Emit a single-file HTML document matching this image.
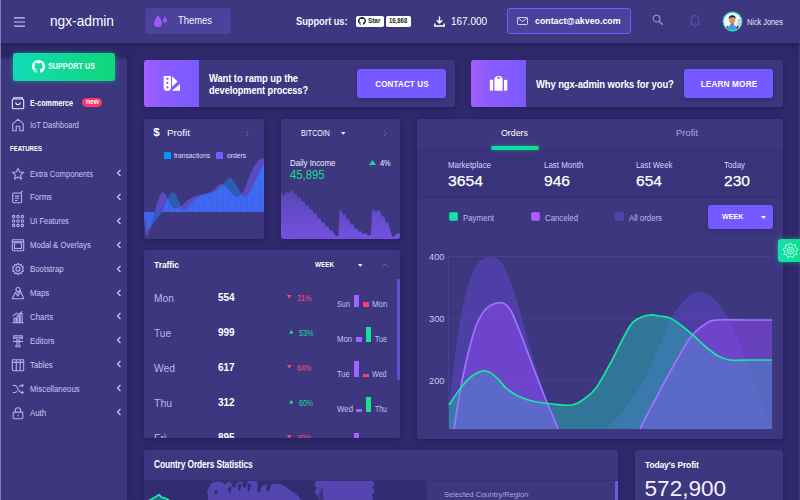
<!DOCTYPE html>
<html lang="en">
<head>
<meta charset="utf-8">
<title>ngx-admin</title>
<style>
*{box-sizing:border-box;margin:0;padding:0}
html,body{width:800px;height:500px;overflow:hidden;background:#2f296b;font-family:"Liberation Sans",sans-serif;color:#fff}
.abs{position:absolute}
.t{position:absolute;white-space:nowrap;line-height:1;transform:translateY(-50%) scaleX(var(--sx,1));transform-origin:0 50%}
.card{position:absolute;background:#3d3780;border-radius:3px;box-shadow:0 2px 5px rgba(28,23,73,.42);overflow:hidden}
#header{position:absolute;left:0;top:0;width:800px;height:43px;background:#3d3780;box-shadow:0 2px 7px rgba(25,20,70,.6);z-index:5}
#sidebar{position:absolute;left:0;top:43px;width:127px;height:457px;z-index:4}
#sbbg{position:absolute;left:0;top:14px;width:126.500px;height:443px;border-radius:0 4px 0 0;background:linear-gradient(#322c6f 0,#3d3780 5px);box-shadow:2px 0 6px rgba(25,20,70,.3)}
.mi{position:absolute;left:0;width:127px;height:24px}
.mi .t{left:30px;top:12.600px;font-size:8.900px;color:#c9c6f3}
.mi svg.ic{position:absolute;left:11px;top:5.500px;width:14px;height:14px;stroke:#b3afee;fill:none;stroke-width:1.250}
.mi .ch{position:absolute;left:116px;top:8px;width:6px;height:8px;stroke:#c9c6f3;fill:none;stroke-width:1.2}
.btn{position:absolute;background:#7659ff;border-radius:3px;box-shadow:0 2px 6px rgba(30,20,90,.35)}
.btn .t{font-weight:bold;font-size:9.8px;letter-spacing:.2px;left:50%;top:50%;transform:translate(-50%,-50%) scaleX(var(--sx,1));transform-origin:50% 50%}
.row{position:absolute;left:0;width:256px;height:35px;border-top:1px solid #39337b}
.row .d{left:10px;top:18.5px;font-size:10.5px;color:#b9b5ee}
.row .n{left:74px;top:18.6px;font-size:10px;font-weight:bold;color:#fff}
.row .p{top:18.5px;font-size:8.9px}
.row .l{font-size:8.4px;color:#c3c0ee}
.red{color:#ff4673}.grn{color:#1fdc8c}
.bar{position:absolute}
.lab{font-size:9.2px;color:#d6d3fa}
.val{font-size:15.3px;color:#fff;-webkit-text-stroke:.25px #fff}
.lg{font-size:8.4px;color:#bdb9ec}
</style>
</head>
<body>

<!-- HEADER -->
<div id="header">
  <svg class="abs" style="left:14.200px;top:17px" width="12" height="11" viewBox="0 0 12 11"><path d="M0 .8h11M0 5h11M0 9.200h11" stroke="#c9c6f3" stroke-width="1.200" fill="none"/></svg>
  <div class="t" style="--sx:0.926;left:50px;top:20.5px;font-size:14.8px;color:#fff">ngx-admin</div>
  <div class="abs" style="left:136px;top:10px;width:1px;height:23px;background:#3a347d"></div>
  <div class="abs" style="left:145px;top:8px;width:86px;height:26px;background:#4b429c;border-radius:3px"></div>
  <svg class="abs" style="left:153px;top:14px" width="16" height="14" viewBox="0 0 16 14"><path d="M5 1 C6.5 4 9 6 9 9 A4 4 0 0 1 1 9 C1 6 3.5 4 5 1Z" fill="#9a5cf5"/><path d="M12 2.2 C12.8 3.8 14.2 5 14.2 6.4 A2.2 2.2 0 0 1 9.8 6.4 C9.8 5 11.2 3.8 12 2.200Z" fill="#9a5cf5"/></svg>
  <div class="t" style="--sx:0.906;left:178px;top:21px;font-size:10.4px;color:#f3f2ff">Themes</div>
  <div class="abs" style="left:284px;top:10px;width:1px;height:23px;background:#3a347d"></div>
  <div class="t" style="--sx:0.866;left:296px;top:21px;font-size:10.800px;font-weight:bold;color:#f2f1ff;letter-spacing:-.1px">Support us:</div>
  <!-- github star -->
  <div class="abs" style="left:356px;top:15.500px;width:28px;height:11px;background:#fff;border-radius:1.800px"></div>
  <svg class="abs" style="left:358px;top:17px" width="8" height="8" viewBox="0 0 16 16"><path fill="#1b1f23" d="M8 0C3.58 0 0 3.58 0 8c0 3.540 2.290 6.530 5.470 7.590.400.070.550-.170.550-.380 0-.190-.010-.820-.010-1.490-2.010.370-2.530-.490-2.690-.940-.090-.230-.480-.940-.820-1.130-.280-.150-.680-.520-.010-.530.630-.010 1.080.580 1.230.820.720 1.210 1.870.870 2.330.660.070-.520.280-.870.510-1.070-1.780-.200-3.640-.890-3.640-3.950 0-.870.310-1.590.820-2.150-.080-.200-.360-1.020.080-2.120 0 0 .670-.210 2.200.820.640-.180 1.320-.270 2-.270.680 0 1.360.090 2 .270 1.530-1.040 2.200-.820 2.200-.820.440 1.100.160 1.920.080 2.120.510.560.820 1.270.820 2.150 0 3.070-1.870 3.750-3.650 3.950.290.250.540.730.540 1.480 0 1.070-.010 1.930-.010 2.200 0 .210.150.460.550.380A8.013 8.013 0 0 0 16 8c0-4.420-3.580-8-8-8z"/></svg>
  <div class="t" style="--sx:0.937;left:367.500px;top:21.200px;font-size:6.800px;font-weight:bold;color:#24292e">Star</div>
  <div class="abs" style="left:386px;top:15.500px;width:24.500px;height:11px;background:#fff;border-radius:1.800px"></div>
  <div class="t" style="--sx:0.875;left:388.500px;top:21.200px;font-size:6.800px;font-weight:bold;color:#24292e">16,868</div>
  <div class="abs" style="left:421px;top:10px;width:1px;height:23px;background:#3a347d"></div>
  <svg class="abs" style="left:434px;top:16px" width="11" height="11" viewBox="0 0 11 11"><path d="M5.5 0.500v6M2.800 4.200l2.700 2.700 2.700-2.700M0.800 7.500v2.500h9.400v-2.500" stroke="#fff" stroke-width="1.400" fill="none"/></svg>
  <div class="t" style="--sx:0.905;left:451px;top:21px;font-size:11px;color:#fff">167.000</div>
  <div class="abs" style="left:497px;top:10px;width:1px;height:23px;background:#3a347d"></div>
  <div class="abs" style="left:507px;top:8px;width:124px;height:26px;background:#4b429c;border:1px solid #7659ff;border-radius:3px"></div>
  <svg class="abs" style="left:517px;top:17px" width="11" height="8" viewBox="0 0 11 8"><rect x=".5" y=".5" width="10" height="7" rx=".8" stroke="#dedcff" fill="none" stroke-width=".9"/><path d="M.8 1l4.700 3.500L10.200 1" stroke="#dedcff" fill="none" stroke-width=".9"/></svg>
  <div class="t" style="--sx:0.9;left:535px;top:21px;font-size:9.800px;font-weight:bold;color:#fff">contact@akveo.com</div>
  <div class="abs" style="left:641px;top:10px;width:1px;height:23px;background:#3a347d"></div>
  <svg class="abs" style="left:652px;top:14px" width="12" height="12" viewBox="0 0 12 12"><circle cx="4.600" cy="4.600" r="3.400" stroke="#9a96d6" fill="none" stroke-width="1.100"/><path d="M7.200 7.200l3.600 3.600" stroke="#9a96d6" stroke-width="1.300"/></svg>
  <div class="abs" style="left:676px;top:10px;width:1px;height:23px;background:#3a347d"></div>
  <svg class="abs" style="left:689px;top:14px" width="12" height="14" viewBox="0 0 12 14"><path d="M6 1.500a3.600 3.600 0 0 0-3.600 3.600v3L1.200 10.200h9.600L9.600 8.100v-3A3.600 3.600 0 0 0 6 1.500zM4.800 11.500a1.200 1.200 0 0 0 2.400 0" stroke="#5d56a8" fill="none" stroke-width="1"/></svg>
  <div class="abs" style="left:711px;top:10px;width:1px;height:23px;background:#3a347d"></div>
  <!-- avatar -->
  <svg class="abs" style="left:722.200px;top:11.400px" width="21" height="21" viewBox="0 0 21 21">
    <defs><clipPath id="av"><circle cx="10.500" cy="10.500" r="8.800"/></clipPath></defs>
    <circle cx="10.500" cy="10.500" r="10" fill="#1fe3ae"/>
    <g clip-path="url(#av)">
      <rect width="21" height="21" fill="#f4f2fb"/>
      <rect x="15.500" y="8" width="5" height="9" fill="#cfcbe0"/>
      <ellipse cx="10.200" cy="9" rx="3" ry="3.900" fill="#c99572"/>
      <path d="M6.800 8.600c-.7-5.400 7.600-5.800 7-.4-.5-1.500-1.500-2-3.400-2S7.400 7 6.800 8.600z" fill="#23222c"/>
      <path d="M8.800 12.500h2.800l.5 2.200h-3.800z" fill="#c4622c"/>
      <path d="M4.500 21c0-5 2.500-7 5.700-7s5.700 2 5.700 7z" fill="#37a2ea"/>
      <path d="M4.300 15.500l1.500-1 .8 3.500-1.600.5z" fill="#b8402c"/><path d="M15 14.500l1.600 1-.6 3.500-1.500-.5z" fill="#3a3340"/>
    </g>
  </svg>
  <div class="t" style="--sx:0.874;left:746.500px;top:21.500px;font-size:8.400px;color:#e7e5ff">Nick Jones</div>
</div>

<!-- SIDEBAR -->
<div id="sidebar">
  <div id="sbbg"></div>
  <div class="abs" style="left:13px;top:10px;width:102px;height:28px;border-radius:3px;background:linear-gradient(90deg,#12dcb6,#0fd67a);box-shadow:0 0 5px rgba(20,225,150,.5)"></div>
  <svg class="abs" style="left:32px;top:17px" width="13" height="13" viewBox="0 0 16 16"><path fill="#fff" d="M8 0C3.580 0 0 3.580 0 8c0 3.540 2.290 6.530 5.470 7.590.400.070.550-.170.550-.380 0-.190-.010-.820-.010-1.490-2.010.370-2.530-.490-2.690-.940-.090-.230-.480-.940-.820-1.130-.280-.150-.680-.520-.010-.530.630-.010 1.080.580 1.230.820.720 1.210 1.870.870 2.330.660.070-.520.280-.870.510-1.070-1.780-.200-3.640-.890-3.640-3.950 0-.870.310-1.590.820-2.150-.080-.200-.360-1.020.080-2.120 0 0 .670-.210 2.200.820.640-.180 1.320-.270 2-.270.680 0 1.360.090 2 .270 1.530-1.040 2.200-.820 2.200-.820.440 1.100.160 1.920.080 2.120.510.560.820 1.270.820 2.150 0 3.070-1.870 3.750-3.650 3.950.290.250.540.730.540 1.480 0 1.070-.010 1.930-.010 2.200 0 .210.150.460.550.380A8.013 8.013 0 0 0 16 8c0-4.420-3.580-8-8-8z"/></svg>
  <div class="t" style="--sx:0.851;left:48px;top:24px;font-size:8.200px;font-weight:bold;color:#fff;letter-spacing:.2px">SUPPORT US</div>

  <div class="mi" style="top:47.300px">
    <svg class="ic" viewBox="0 0 16 16" style="stroke:#e9e7ff"><rect x="1.500" y="3.500" width="13" height="11" rx="1.500"/><path d="M3 3.500V2h10v1.500M5.500 7.500c0 3.200 5 3.200 5 0"/></svg>
    <div class="t" style="--sx:0.855;color:#fff;font-weight:bold;font-size:8.400px">E-commerce</div>
    <div class="abs" style="left:82px;top:8px;width:20px;height:8.500px;border-radius:5px;background:#ff386a"></div>
    <div class="t" style="--sx:0.983;left:85.500px;top:11.800px;font-size:6.800px;font-weight:bold;color:#fff">new</div>
  </div>
  <div class="mi" style="top:69.300px">
    <svg class="ic" viewBox="0 0 16 16"><path d="M2 14.500V6.500L8 1.500l6 5v8h-4v-5H6v5z"/></svg>
    <div class="t" style="--sx:0.837;">IoT Dashboard</div>
  </div>
  <div class="t" style="--sx:0.783;left:10px;top:106px;font-size:7.700px;font-weight:bold;color:#fff;letter-spacing:0">FEATURES</div>
  <div class="mi" style="top:118.0px">
    <svg class="ic" viewBox="0 0 16 16"><path d="M8 1.800l1.900 4 4.300.500-3.200 3 .900 4.300L8 11.400l-3.900 2.200.900-4.300-3.200-3 4.300-.500z"/></svg>
    <div class="t" style="--sx:0.857;">Extra Components</div>
    <svg class="ch" viewBox="0 0 6 8"><path d="M4.500 1L1.500 4l3 3"/></svg>
  </div>
  <div class="mi" style="top:141.9px">
    <svg class="ic" viewBox="0 0 16 16"><rect x="2" y="3.500" width="10" height="11" rx="1"/><path d="M4.500 7h5M4.500 9.500h5M4.500 12h3M10.500 3.500l3-2.500"/></svg>
    <div class="t" style="--sx:0.875;">Forms</div>
    <svg class="ch" viewBox="0 0 6 8"><path d="M4.500 1L1.500 4l3 3"/></svg>
  </div>
  <div class="mi" style="top:165.8px">
    <svg class="ic" viewBox="0 0 16 16"><circle cx="3" cy="3" r="1.400"/><circle cx="8" cy="3" r="1.400"/><circle cx="13" cy="3" r="1.400"/><circle cx="3" cy="8" r="1.400"/><circle cx="8" cy="8" r="1.400"/><circle cx="13" cy="8" r="1.400"/><circle cx="3" cy="13" r="1.400"/><circle cx="8" cy="13" r="1.400"/><circle cx="13" cy="13" r="1.400"/></svg>
    <div class="t" style="--sx:0.837;">UI Features</div>
    <svg class="ch" viewBox="0 0 6 8"><path d="M4.500 1L1.500 4l3 3"/></svg>
  </div>
  <div class="mi" style="top:189.7px">
    <svg class="ic" viewBox="0 0 16 16"><rect x="1.500" y="2" width="13" height="12.500" rx="1"/><rect x="4" y="5.500" width="8" height="6.500"/><path d="M1.500 4.200h13"/></svg>
    <div class="t" style="--sx:0.868;">Modal &amp; Overlays</div>
    <svg class="ch" viewBox="0 0 6 8"><path d="M4.500 1L1.500 4l3 3"/></svg>
  </div>
  <div class="mi" style="top:213.6px">
    <svg class="ic" viewBox="0 0 16 16"><circle cx="8" cy="8" r="2.400"/><path d="M8 1.500l1.500 1.700 2.200-.500.500 2.200 2 .900-.900 2.200.900 2.200-2 .900-.500 2.200-2.200-.500L8 14.500l-1.500-1.700-2.200.500-.500-2.200-2-.900.900-2.200-.900-2.200 2-.900.500-2.200 2.200.500z"/></svg>
    <div class="t" style="--sx:0.885;">Bootstrap</div>
    <svg class="ch" viewBox="0 0 6 8"><path d="M4.500 1L1.500 4l3 3"/></svg>
  </div>
  <div class="mi" style="top:237.5px">
    <svg class="ic" viewBox="0 0 16 16"><path d="M1.500 14.500L5 7.500l3 4 3-5.500 3.500 8.500z"/><circle cx="8" cy="4" r="2.300"/><path d="M8 6.300v2.500"/></svg>
    <div class="t" style="--sx:0.885;">Maps</div>
    <svg class="ch" viewBox="0 0 6 8"><path d="M4.500 1L1.500 4l3 3"/></svg>
  </div>
  <div class="mi" style="top:261.4px">
    <svg class="ic" viewBox="0 0 16 16"><path d="M1.500 14.500h13M3.500 14.500v-5h2.200v5M7 14.500v-8h2.200v8M10.500 14.500v-10.500h2.200v10.500M2 7l4-3.500 2.500 1.500L13 1.500"/></svg>
    <div class="t" style="--sx:0.885;">Charts</div>
    <svg class="ch" viewBox="0 0 6 8"><path d="M4.500 1L1.500 4l3 3"/></svg>
  </div>
  <div class="mi" style="top:285.3px">
    <svg class="ic" viewBox="0 0 16 16"><path d="M3 2h10v3h-1.200l-.600-1.200H9.200v9l1.300.700v1H5.500v-1l1.300-.700v-9H4.800L4.200 5H3z"/><path d="M2 8.500h12"/></svg>
    <div class="t" style="--sx:0.885;">Editors</div>
    <svg class="ch" viewBox="0 0 6 8"><path d="M4.500 1L1.500 4l3 3"/></svg>
  </div>
  <div class="mi" style="top:309.2px">
    <svg class="ic" viewBox="0 0 16 16"><rect x="1.500" y="2" width="13" height="12.500" rx="1"/><path d="M1.500 5h13M6 2v12.500M10.500 2v12.500"/></svg>
    <div class="t" style="--sx:0.885;">Tables</div>
    <svg class="ch" viewBox="0 0 6 8"><path d="M4.500 1L1.500 4l3 3"/></svg>
  </div>
  <div class="mi" style="top:333.1px">
    <svg class="ic" viewBox="0 0 16 16"><path d="M2 4h2.500c3 0 4 8 7 8H14M2 12h2.500c1 0 1.700-.800 2.300-1.800M9.200 5.800c.600-1 1.300-1.800 2.300-1.800H14M12.300 2.300L14 4l-1.700 1.700M12.300 10.300L14 12l-1.700 1.700"/></svg>
    <div class="t" style="--sx:0.885;">Miscellaneous</div>
    <svg class="ch" viewBox="0 0 6 8"><path d="M4.500 1L1.500 4l3 3"/></svg>
  </div>
  <div class="mi" style="top:357.0px">
    <svg class="ic" viewBox="0 0 16 16"><rect x="2.500" y="7" width="11" height="7.500" rx="1"/><path d="M5 7V5a3 3 0 0 1 6 0v2M8 9.800v2"/></svg>
    <div class="t" style="--sx:0.885;">Auth</div>
    <svg class="ch" viewBox="0 0 6 8"><path d="M4.500 1L1.500 4l3 3"/></svg>
  </div>
</div>

<!-- BANNERS -->
<div class="card" style="left:144px;top:60px;width:311px;height:47px">
  <div class="abs" style="left:0;top:0;width:55px;height:47px;background:linear-gradient(90deg,#a55eff 0%,#8c5cff 30%,#7a5aff 100%)"></div>
  <svg class="abs" style="left:19px;top:14px" width="18" height="18" viewBox="0 0 18 18"><path d="M.7 1.900h7.300v11.300a3.650 3.650 0 0 1-7.300 0z" fill="#fff"/><circle cx="4.350" cy="4.800" r="1.150" fill="#8458ff"/><circle cx="4.350" cy="9" r="1.150" fill="#8458ff"/><circle cx="4.350" cy="13.300" r="1.150" fill="#8458ff"/><path d="M9 2.200l5.700 5.300L9 12.800z" fill="#fff"/><path d="M8.700 16.800L17 10.200v6.600z" fill="#fff"/></svg>
  <div class="t" style="--sx:0.889;left:65px;top:17.500px;font-size:10.600px;font-weight:bold;color:#fff;letter-spacing:-.1px">Want to ramp up the</div>
  <div class="t" style="--sx:0.873;left:65px;top:29.500px;font-size:10.600px;font-weight:bold;color:#fff;letter-spacing:-.1px">development process?</div>
  <div class="btn" style="left:213px;top:9px;width:89px;height:29px"><div class="t" style="--sx:0.817;">CONTACT US</div></div>
</div>
<div class="card" style="left:471px;top:60px;width:311.500px;height:47px">
  <div class="abs" style="left:0;top:0;width:55px;height:47px;background:linear-gradient(90deg,#a55eff 0%,#8c5cff 30%,#7a5aff 100%)"></div>
  <svg class="abs" style="left:18px;top:14px" width="19" height="18" viewBox="0 0 19 18"><rect x=".8" y="5.700" width="3.300" height="11.100" rx="1.200" fill="#fff"/><path d="M5.400 16.800V5.400a4.150 3.500 0 0 1 8.300 0V16.800z" fill="#fff"/><ellipse cx="9.550" cy="3.900" rx="1.600" ry=".8" fill="#8458ff"/><rect x="15" y="5.700" width="3.300" height="11.100" rx="1.200" fill="#fff"/></svg>
  <div class="t" style="--sx:0.889;left:65px;top:23.500px;font-size:10.600px;font-weight:bold;color:#fff;letter-spacing:-.1px">Why ngx-admin works for you?</div>
  <div class="btn" style="left:213px;top:9px;width:89px;height:29px"><div class="t" style="--sx:0.836;">LEARN MORE</div></div>
</div>

<!-- CARDS -->
<div class="card" style="left:144px;top:119px;width:120px;height:120px">
  <div class="t" style="left:9.300px;top:13.800px;font-size:11.500px;font-weight:bold;color:#fff">$</div>
  <div class="t" style="--sx:1.06;left:23px;top:14.500px;font-size:9.300px;color:#fff">Profit</div>
  <svg class="abs" style="left:101px;top:11px" width="5" height="7" viewBox="0 0 5 7"><path d="M1 1l2.500 2.500L1 6" stroke="#6a63b5" fill="none" stroke-width="1"/></svg>
  <div class="abs" style="left:0;top:25px;width:120px;height:1px;background:#393379"></div>
  <div class="abs" style="left:19.500px;top:33px;width:7px;height:7px;border-radius:1px;background:#0095ff"></div>
  <div class="t lg" style="--sx:0.903;left:30px;top:37px;font-size:7.400px;color:#e0deff">transactions</div>
  <div class="abs" style="left:72px;top:33px;width:7px;height:7px;border-radius:1px;background:#7659ff"></div>
  <div class="t lg" style="--sx:0.907;left:83px;top:37px;font-size:7.400px;color:#e0deff">orders</div>
  <svg class="abs" style="left:0;top:0" width="120" height="120" viewBox="0 0 120 120">
    <defs>
      <clipPath id="clA"><path d="M0.0 101.0 C0.5 103.9 1.6 115.6 2.7 117.0 C3.8 118.4 4.5 113.3 6.0 109.0 C7.5 104.7 9.3 98.2 10.8 93.0 C12.3 87.8 13.1 83.5 14.5 80.0 C15.9 76.5 17.0 73.9 18.5 73.5 C20.0 73.1 21.1 75.2 23.0 78.0 C24.9 80.8 26.7 87.2 29.0 89.0 C31.3 90.8 33.3 89.4 36.0 88.0 C38.7 86.6 41.1 83.0 44.0 81.0 C46.9 79.0 48.4 78.3 52.0 77.0 C55.6 75.7 60.6 75.3 64.0 74.0 C67.4 72.7 68.7 71.6 71.0 70.0 C73.3 68.4 74.8 65.2 77.0 65.0 C79.2 64.8 80.8 67.1 83.0 69.0 C85.2 70.9 86.9 73.9 89.0 75.5 C91.1 77.1 92.5 78.8 94.5 78.0 C96.5 77.2 97.9 75.0 100.0 71.0 C102.1 67.0 103.7 61.0 106.0 56.0 C108.3 51.0 110.5 46.1 113.0 43.0 C115.5 39.9 118.7 39.7 120.0 39.0 L120 93 L0 93 Z"/></clipPath>
      <pattern id="stripe" width="2.400" height="10" patternUnits="userSpaceOnUse"><rect width=".7" height="10" fill="#2f4fd0" opacity=".45"/></pattern>
      <linearGradient id="gtr" gradientUnits="userSpaceOnUse" x1="0" y1="45" x2="0" y2="95"><stop offset="0" stop-color="#3a78f5"/><stop offset="1" stop-color="#4266f4"/></linearGradient>
    </defs>
    <path d="M0.0 101.0 C0.5 103.9 1.6 115.6 2.7 117.0 C3.8 118.4 4.5 113.3 6.0 109.0 C7.5 104.7 9.3 98.2 10.8 93.0 C12.3 87.8 13.1 83.5 14.5 80.0 C15.9 76.5 17.0 73.9 18.5 73.5 C20.0 73.1 21.1 75.2 23.0 78.0 C24.9 80.8 26.7 87.2 29.0 89.0 C31.3 90.8 33.3 89.4 36.0 88.0 C38.7 86.6 41.1 83.0 44.0 81.0 C46.9 79.0 48.4 78.3 52.0 77.0 C55.6 75.7 60.6 75.3 64.0 74.0 C67.4 72.7 68.7 71.6 71.0 70.0 C73.3 68.4 74.8 65.2 77.0 65.0 C79.2 64.8 80.8 67.1 83.0 69.0 C85.2 70.9 86.9 73.9 89.0 75.5 C91.1 77.1 92.5 78.8 94.5 78.0 C96.5 77.2 97.9 75.0 100.0 71.0 C102.1 67.0 103.7 61.0 106.0 56.0 C108.3 51.0 110.5 46.1 113.0 43.0 C115.5 39.9 118.7 39.7 120.0 39.0 L120 93 L0 93 Z" fill="#5c49c4"/>
    <path d="M0.0 94.0 C0.8 96.9 2.5 108.6 4.5 110.0 C6.5 111.4 8.6 105.1 11.0 102.0 C13.4 98.9 15.8 97.0 18.0 93.0 C20.2 89.0 21.6 83.5 23.5 80.0 C25.4 76.5 27.0 73.7 28.8 73.5 C30.6 73.3 31.7 75.8 33.5 79.0 C35.3 82.2 36.8 89.7 39.0 91.0 C41.2 92.3 43.0 88.5 46.0 86.0 C49.0 83.5 51.8 79.2 55.8 77.0 C59.8 74.8 64.5 75.6 68.3 74.0 C72.1 72.4 74.5 70.2 77.0 68.0 C79.5 65.8 80.3 63.6 82.0 62.0 C83.7 60.4 84.7 58.6 86.3 59.0 C87.9 59.4 89.3 61.7 91.0 64.0 C92.7 66.3 94.1 69.5 96.0 72.0 C97.9 74.5 99.4 78.5 101.6 78.0 C103.8 77.5 105.8 73.0 108.0 69.0 C110.2 65.0 111.8 60.2 114.0 56.0 C116.2 51.8 118.9 47.3 120.0 45.4 L120 93 L0 93 Z" fill="#2b5db6"/>
    <g clip-path="url(#clA)"><path d="M0.0 94.0 C0.8 96.9 2.5 108.6 4.5 110.0 C6.5 111.4 8.6 105.1 11.0 102.0 C13.4 98.9 15.8 97.0 18.0 93.0 C20.2 89.0 21.6 83.5 23.5 80.0 C25.4 76.5 27.0 73.7 28.8 73.5 C30.6 73.3 31.7 75.8 33.5 79.0 C35.3 82.2 36.8 89.7 39.0 91.0 C41.2 92.3 43.0 88.5 46.0 86.0 C49.0 83.5 51.8 79.2 55.8 77.0 C59.8 74.8 64.5 75.6 68.3 74.0 C72.1 72.4 74.5 70.2 77.0 68.0 C79.5 65.8 80.3 63.6 82.0 62.0 C83.7 60.4 84.7 58.6 86.3 59.0 C87.9 59.4 89.3 61.7 91.0 64.0 C92.7 66.3 94.1 69.5 96.0 72.0 C97.9 74.5 99.4 78.5 101.6 78.0 C103.8 77.5 105.8 73.0 108.0 69.0 C110.2 65.0 111.8 60.2 114.0 56.0 C116.2 51.8 118.9 47.3 120.0 45.4 L120 93 L0 93 Z" fill="url(#gtr)"/><path d="M0.0 94.0 C0.8 96.9 2.5 108.6 4.5 110.0 C6.5 111.4 8.6 105.1 11.0 102.0 C13.4 98.9 15.8 97.0 18.0 93.0 C20.2 89.0 21.6 83.5 23.5 80.0 C25.4 76.5 27.0 73.7 28.8 73.5 C30.6 73.3 31.7 75.8 33.5 79.0 C35.3 82.2 36.8 89.7 39.0 91.0 C41.2 92.3 43.0 88.5 46.0 86.0 C49.0 83.5 51.8 79.2 55.8 77.0 C59.8 74.8 64.5 75.6 68.3 74.0 C72.1 72.4 74.5 70.2 77.0 68.0 C79.5 65.8 80.3 63.6 82.0 62.0 C83.7 60.4 84.7 58.6 86.3 59.0 C87.9 59.4 89.3 61.7 91.0 64.0 C92.7 66.3 94.1 69.5 96.0 72.0 C97.9 74.5 99.4 78.5 101.6 78.0 C103.8 77.5 105.8 73.0 108.0 69.0 C110.2 65.0 111.8 60.2 114.0 56.0 C116.2 51.8 118.9 47.3 120.0 45.4 L120 93 L0 93 Z" fill="url(#stripe)"/></g>
  </svg>
</div>
<div class="card" style="left:280.800px;top:119px;width:119.500px;height:120px">
  <div class="t" style="--sx:0.855;left:20.2px;top:14.500px;font-size:8.200px;color:#fff;letter-spacing:.1px">BITCOIN</div>
  <svg class="abs" style="left:60.7px;top:13.200px" width="4.500" height="3" viewBox="0 0 6 4"><path d="M0 0h6L3 3.500z" fill="#fff"/></svg>
  <svg class="abs" style="left:102.2px;top:11px" width="5" height="7" viewBox="0 0 5 7"><path d="M1 1l2.500 2.500L1 6" stroke="#6a63b5" fill="none" stroke-width="1"/></svg>
  <div class="abs" style="left:0;top:25px;width:120px;height:1px;background:#393379"></div>
  <div class="t" style="--sx:0.893;left:9.7px;top:43.500px;font-size:8.800px;color:#f0efff">Daily Income</div>
  <div class="t" style="--sx:0.915;left:9.7px;top:56px;font-size:12.400px;color:#19de8b">45,895</div>
  <svg class="abs" style="left:88.7px;top:40.500px" width="7" height="5" viewBox="0 0 7 5"><path d="M0 5h7L3.500 0z" fill="#19de8b"/></svg>
  <div class="t" style="--sx:0.841;left:99.2px;top:43.500px;font-size:8.800px;color:#f0efff">4%</div>
  <svg class="abs" style="left:-.8px;top:0" width="120" height="120" viewBox="0 0 120 120">
    <defs><linearGradient id="gbt" gradientUnits="userSpaceOnUse" x1="0" y1="70" x2="0" y2="120"><stop offset="0" stop-color="#5846b3"/><stop offset="1" stop-color="#7351e0"/></linearGradient></defs>
    <path d="M0.0 78.0 L2.0 74.0 L4.0 77.0 L6.0 73.0 L9.0 74.0 L12.0 71.0 L14.0 75.0 L16.0 74.0 L18.0 79.0 L20.0 78.0 L22.0 83.0 L24.0 82.0 L26.0 87.0 L28.0 86.0 L30.0 91.0 L32.0 90.0 L34.0 95.0 L36.0 94.0 L38.0 100.0 L40.0 99.0 L42.0 104.0 L44.0 103.0 L46.0 108.0 L48.0 107.0 L50.0 112.0 L52.0 111.0 L54.0 115.0 L56.0 117.0 L58.5 117.0 L59.5 92.0 L61.0 91.0 L63.0 96.0 L65.0 95.0 L67.0 101.0 L69.0 100.0 L71.0 106.0 L73.0 105.0 L75.0 110.0 L77.0 109.0 L79.0 113.0 L81.0 112.0 L83.0 115.0 L86.0 114.0 L88.0 116.5 L91.0 116.0 L92.0 92.0 L94.0 90.0 L96.0 93.0 L98.0 91.0 L100.0 92.0 L102.0 98.0 L104.0 97.0 L106.0 104.0 L108.0 103.0 L110.0 111.0 L112.0 117.0 L114.0 118.0 L116.0 115.0 L118.0 114.0 L120.0 115.0 L120 120 L0 120 Z" fill="url(#gbt)" transform="translate(0,0)"/>
  </svg>
</div>
<div class="card" style="left:144px;top:250px;width:256px;height:188px">
  <div class="t" style="--sx:0.881;left:10px;top:15.400px;font-size:9.700px;font-weight:bold;color:#fff;letter-spacing:-.1px">Traffic</div>
  <div class="t" style="--sx:0.856;left:171px;top:15px;font-size:7.400px;font-weight:bold;color:#fff">WEEK</div>
  <svg class="abs" style="left:214.200px;top:13.700px" width="4.500" height="3" viewBox="0 0 6 4"><path d="M0 0h6L3 3.500z" fill="#fff"/></svg>
  <svg class="abs" style="left:236.500px;top:12.500px" width="8" height="5" viewBox="0 0 8 5"><path d="M1 4l3-3 3 3" stroke="#655eb0" fill="none" stroke-width="1"/></svg>
  <div class="row" style="top:28px">
    <div class="t d" style="--sx:0.979;">Mon</div><div class="t n">554</div>
    <svg class="abs" style="left:143px;top:16.300px;fill:#ff4673" width="4.600" height="3.500" viewBox="0 0 6 4.500"><path d="M0 0h6L3 4.500z"/></svg>
    <div class="t p" style="--sx:0.816;left:152.5px;color:#ff4673">31%</div>
    <div class="t l" style="--sx:0.872;left:192.500px;top:25.300px">Sun</div>
    <div class="bar" style="left:209.5px;top:16.1px;width:5.500px;height:11.5px;background:#a065ff"></div>
    <div class="bar" style="left:219px;top:22.6px;width:5.500px;height:5px;background:#ff3d71"></div>
    <div class="t l" style="--sx:0.945;left:228px;top:25.300px">Mon</div>
  </div>
  <div class="row" style="top:63px">
    <div class="t d" style="--sx:0.959;">Tue</div><div class="t n">999</div>
    <svg class="abs" style="left:144.5px;top:16.300px;fill:#1fdc8c" width="4.600" height="3.500" viewBox="0 0 6 4.500"><path d="M0 4.500h6L3 0z"/></svg>
    <div class="t p" style="--sx:0.816;left:154.5px;color:#1fdc8c">53%</div>
    <div class="t l" style="--sx:0.92;left:192.500px;top:25.300px">Mon</div>
    <div class="bar" style="left:212px;top:23.1px;width:5.500px;height:4.5px;background:#a065ff"></div>
    <div class="bar" style="left:221.5px;top:12.600000000000001px;width:5.500px;height:15px;background:#12e58f"></div>
    <div class="t l" style="--sx:0.85;left:231px;top:25.300px">Tue</div>
  </div>
  <div class="row" style="top:98px">
    <div class="t d" style="--sx:0.981;">Wed</div><div class="t n">617</div>
    <svg class="abs" style="left:143px;top:16.300px;fill:#ff4673" width="4.600" height="3.500" viewBox="0 0 6 4.500"><path d="M0 0h6L3 4.500z"/></svg>
    <div class="t p" style="--sx:0.816;left:152.5px;color:#ff4673">64%</div>
    <div class="t l" style="--sx:0.892;left:192.500px;top:25.300px">Tue</div>
    <div class="bar" style="left:209.5px;top:11.600000000000001px;width:5.500px;height:16px;background:#a065ff"></div>
    <div class="bar" style="left:219px;top:24.6px;width:5.500px;height:3px;background:#ff3d71"></div>
    <div class="t l" style="--sx:0.855;left:228px;top:25.300px">Wed</div>
  </div>
  <div class="row" style="top:133px">
    <div class="t d">Thu</div><div class="t n">312</div>
    <svg class="abs" style="left:144.5px;top:16.300px;fill:#1fdc8c" width="4.600" height="3.500" viewBox="0 0 6 4.500"><path d="M0 4.500h6L3 0z"/></svg>
    <div class="t p" style="--sx:0.788;left:154.5px;color:#1fdc8c">60%</div>
    <div class="t l" style="--sx:0.937;left:192.500px;top:25.300px">Wed</div>
    <div class="bar" style="left:212px;top:24.6px;width:5.500px;height:3px;background:#a065ff"></div>
    <div class="bar" style="left:221.5px;top:12.600000000000001px;width:5.500px;height:15px;background:#12e58f"></div>
    <div class="t l" style="--sx:0.831;left:231px;top:25.300px">Thu</div>
  </div>
  <div class="row" style="top:168px">
    <div class="t d">Fri</div><div class="t n">895</div>
    <svg class="abs" style="left:143px;top:16.300px;fill:#ff4673" width="4.600" height="3.500" viewBox="0 0 6 4.500"><path d="M0 0h6L3 4.500z"/></svg>
    <div class="t p" style="--sx:0.816;left:152.5px;color:#ff4673">39%</div>
    <div class="t l" style="left:192.500px;top:25.300px">Thu</div>
    <div class="bar" style="left:209.5px;top:13.600000000000001px;width:5.500px;height:14px;background:#a065ff"></div>
    <div class="bar" style="left:219px;top:23.6px;width:5.500px;height:4px;background:#ff3d71"></div>
    <div class="t l" style="left:228px;top:25.300px">Fri</div>
  </div>
  <div class="abs" style="left:253px;top:29px;width:2.500px;height:101px;background:#5f50cf;border-radius:1px"></div>
</div>
<div class="card" style="left:417px;top:119px;width:365.500px;height:319.500px">
  <div class="abs" style="left:0;top:29px;width:366px;height:49px;background:#39337b"></div>
  <div class="abs" style="left:0;top:28.500px;width:366px;height:1px;background:#363078"></div>
  <div class="abs" style="left:0;top:78px;width:366px;height:1px;background:#352f76"></div>
  <div class="t" style="--sx:0.901;left:84px;top:14px;font-size:9.800px;color:#fff">Orders</div>
  <div class="t" style="--sx:0.962;left:258.500px;top:14px;font-size:9.800px;color:#a9a5e6">Profit</div>
  <div class="abs" style="left:73.500px;top:27px;width:48px;height:3.500px;border-radius:2px;background:linear-gradient(90deg,#10dcb4,#10e08a);box-shadow:0 0 4px rgba(16,224,150,.5)"></div>
  <div class="t lab" style="--sx:0.859;left:31px;top:47px">Marketplace</div><div class="t val" style="--sx:1.028;left:30.500px;top:61.700px">3654</div>
  <div class="t lab" style="--sx:0.865;left:127px;top:47px">Last Month</div><div class="t val" style="--sx:1.018;left:126.500px;top:61.700px">946</div>
  <div class="t lab" style="--sx:0.839;left:219px;top:47px">Last Week</div><div class="t val" style="--sx:1.018;left:218.500px;top:61.700px">654</div>
  <div class="t lab" style="--sx:0.857;left:307px;top:47px">Today</div><div class="t val" style="--sx:1.018;left:306.500px;top:61.700px">230</div>
  <div class="abs" style="left:32px;top:93px;width:8.500px;height:8.500px;border-radius:1.500px;background:#12e3a0;border:1px solid #0bd08a"></div><div class="t lg" style="--sx:0.938;left:46px;top:98.500px">Payment</div>
  <div class="abs" style="left:114px;top:93px;width:8.500px;height:8.500px;border-radius:1.500px;background:#a461ff;border:1px solid #9553f0"></div><div class="t lg" style="--sx:0.932;left:128px;top:98.500px">Canceled</div>
  <div class="abs" style="left:198px;top:93px;width:8.500px;height:8.500px;border-radius:1.500px;background:#4f45a6"></div><div class="t lg" style="--sx:0.933;left:212px;top:98.500px">All orders</div>
  <div class="btn" style="left:291px;top:86px;width:64.500px;height:24px"></div>
  <div class="t" style="--sx:0.91;left:304.500px;top:98px;font-size:7.800px;font-weight:bold;color:#fff">WEEK</div>
  <svg class="abs" style="left:343.500px;top:97px" width="5" height="3.300" viewBox="0 0 6 4"><path d="M0 0h6L3 3.500z" fill="#fff"/></svg>
  <div class="t" style="--sx:1.055;left:12px;top:137.500px;font-size:8.800px;color:#c9c6f3">400</div>
  <div class="t" style="--sx:1.055;left:12px;top:199.500px;font-size:8.800px;color:#c9c6f3">300</div>
  <div class="t" style="--sx:1.055;left:12px;top:261.500px;font-size:8.800px;color:#c9c6f3">200</div>
  <svg class="abs" style="left:0;top:0" width="364" height="318" viewBox="0 0 364 318">
    <path d="M31.500 137.500H355M31.500 199.500H355M31.500 261.500H355" stroke="#4a4393" stroke-width=".8" fill="none"/>
    <path d="M31.500 137.500V310" stroke="#4a4393" stroke-width=".8" fill="none"/>
    <path d="M32.0 283.0 C32.7 277.9 34.6 263.5 36.0 253.0 C37.4 242.5 38.5 231.5 40.0 221.0 C41.5 210.5 43.0 200.7 45.0 191.0 C47.0 181.3 49.3 172.0 52.0 164.0 C54.7 156.0 57.4 148.4 61.0 144.0 C64.6 139.6 68.9 138.0 73.0 138.0 C77.1 138.0 81.4 139.6 85.0 144.0 C88.6 148.4 91.1 156.3 94.0 164.0 C96.9 171.7 99.1 179.3 102.0 189.0 C104.9 198.7 107.8 209.8 111.0 221.0 C114.2 232.2 117.6 244.1 121.0 255.0 C124.4 265.9 127.6 275.8 131.0 285.0 C134.4 294.2 139.3 304.9 141.0 310.0 L32 310 Z" fill="#5a45c0" opacity=".6"/>
    <path d="M189.0 310.0 C193.1 304.6 205.5 293.2 213.0 283.0 C220.5 272.8 226.2 262.9 233.0 249.0 C239.8 235.1 246.9 212.7 253.0 201.0 C259.1 189.3 263.9 184.8 269.0 180.0 C274.1 175.2 278.2 173.0 283.0 173.0 C287.8 173.0 292.6 175.9 297.0 180.0 C301.4 184.1 304.2 188.7 310.0 197.0 C313.8 205.3 319.6 216.1 325.0 229.0 C330.4 241.9 335.9 259.4 341.0 273.0 C346.1 286.6 352.6 302.9 355.0 310.0 Z" fill="#5a45c0" opacity=".6"/>
    <path d="M32.0 286.0 C33.9 283.3 39.1 274.9 43.0 270.0 C46.9 265.1 50.6 260.1 55.0 257.0 C59.4 253.9 64.8 251.7 69.0 252.0 C73.2 252.3 76.6 256.1 80.0 259.0 C83.4 261.9 85.4 265.9 89.0 269.0 C92.6 272.1 96.6 274.8 101.0 277.0 C105.4 279.2 109.2 280.6 115.0 282.0 C120.8 283.4 128.2 284.3 135.0 285.0 C141.8 285.7 149.6 286.9 155.0 286.0 C160.4 285.1 162.9 282.9 167.0 280.0 C171.1 277.1 174.6 274.9 179.0 269.0 C183.4 263.1 187.2 255.5 193.0 245.0 C198.8 234.5 207.6 215.0 213.0 207.0 C218.4 199.0 221.6 199.9 225.0 198.0 C228.4 196.1 229.9 196.2 233.0 196.0 C236.1 195.8 239.6 196.5 243.0 197.0 C246.4 197.5 249.3 197.3 253.0 199.0 C256.7 200.7 260.9 203.9 265.0 207.0 C269.1 210.1 272.9 213.4 277.0 217.0 C281.1 220.6 284.9 224.6 289.0 228.0 C293.1 231.4 296.9 234.8 301.0 237.0 C305.1 239.2 307.6 240.3 313.0 241.0 C318.4 241.7 325.9 241.0 333.0 241.0 C340.1 241.0 351.3 241.0 355.0 241.0 L355 310 L32 310 Z" fill="#16c4a8" opacity=".32"/>
    <path d="M37.0 310.0 C37.7 304.9 39.5 293.8 41.0 285.0 C42.5 276.2 44.1 266.2 46.0 257.0 C47.9 247.8 49.8 239.5 52.0 231.0 C54.2 222.5 56.3 213.8 59.0 207.0 C61.7 200.2 64.8 194.8 68.0 191.0 C71.2 187.2 74.8 185.6 78.0 184.5 C81.2 183.4 84.3 183.2 87.0 184.5 C89.7 185.8 91.3 187.2 94.0 192.0 C96.7 196.8 99.4 204.0 103.0 213.0 C106.6 222.0 110.6 233.4 115.0 245.0 C119.4 256.6 124.6 270.1 129.0 281.0 C133.4 291.9 139.0 304.2 141.0 310.0 Z" fill="#8449e6" opacity=".58"/>
    <path d="M223.0 310.0 C225.6 304.2 232.9 290.5 238.0 281.0 C243.1 271.5 247.1 263.5 253.0 253.0 C258.9 242.5 266.9 227.2 273.0 219.0 C279.1 210.8 284.2 207.6 289.0 204.5 C293.8 201.4 294.4 201.6 301.0 201.0 C307.6 200.4 318.8 201.0 328.0 201.0 C337.2 201.0 350.4 201.0 355.0 201.0 L355 310 Z" fill="#8449e6" opacity=".58"/>
    <path d="M32.0 286.0 C33.9 283.3 39.1 274.9 43.0 270.0 C46.9 265.1 50.6 260.1 55.0 257.0 C59.4 253.9 64.8 251.7 69.0 252.0 C73.2 252.3 76.6 256.1 80.0 259.0 C83.4 261.9 85.4 265.9 89.0 269.0 C92.6 272.1 96.6 274.8 101.0 277.0 C105.4 279.2 109.2 280.6 115.0 282.0 C120.8 283.4 128.2 284.3 135.0 285.0 C141.8 285.7 149.6 286.9 155.0 286.0 C160.4 285.1 162.9 282.9 167.0 280.0 C171.1 277.1 174.6 274.9 179.0 269.0 C183.4 263.1 187.2 255.5 193.0 245.0 C198.8 234.5 207.6 215.0 213.0 207.0 C218.4 199.0 221.6 199.9 225.0 198.0 C228.4 196.1 229.9 196.2 233.0 196.0 C236.1 195.8 239.6 196.5 243.0 197.0 C246.4 197.5 249.3 197.3 253.0 199.0 C256.7 200.7 260.9 203.9 265.0 207.0 C269.1 210.1 272.9 213.4 277.0 217.0 C281.1 220.6 284.9 224.6 289.0 228.0 C293.1 231.4 296.9 234.8 301.0 237.0 C305.1 239.2 307.6 240.3 313.0 241.0 C318.4 241.7 325.9 241.0 333.0 241.0 C340.1 241.0 351.3 241.0 355.0 241.0 L355 310 L32 310 Z" fill="#35b0c0" opacity=".22"/>
    <path d="M37.0 310.0 C37.7 304.9 39.5 293.8 41.0 285.0 C42.5 276.2 44.1 266.2 46.0 257.0 C47.9 247.8 49.8 239.5 52.0 231.0 C54.2 222.5 56.3 213.8 59.0 207.0 C61.7 200.2 64.8 194.8 68.0 191.0 C71.2 187.2 74.8 185.6 78.0 184.5 C81.2 183.4 84.3 183.2 87.0 184.5 C89.7 185.8 91.3 187.2 94.0 192.0 C96.7 196.8 99.4 204.0 103.0 213.0 C106.6 222.0 110.6 233.4 115.0 245.0 C119.4 256.6 124.6 270.1 129.0 281.0 C133.4 291.9 139.0 304.2 141.0 310.0" stroke="#a272ff" stroke-width="1.700" fill="none"/>
    <path d="M223.0 310.0 C225.6 304.2 232.9 290.5 238.0 281.0 C243.1 271.5 247.1 263.5 253.0 253.0 C258.9 242.5 266.9 227.2 273.0 219.0 C279.1 210.8 284.2 207.6 289.0 204.5 C293.8 201.4 294.4 201.6 301.0 201.0 C307.6 200.4 318.8 201.0 328.0 201.0 C337.2 201.0 350.4 201.0 355.0 201.0" stroke="#a272ff" stroke-width="1.700" fill="none"/>
    <path d="M32.0 286.0 C33.9 283.3 39.1 274.9 43.0 270.0 C46.9 265.1 50.6 260.1 55.0 257.0 C59.4 253.9 64.8 251.7 69.0 252.0 C73.2 252.3 76.6 256.1 80.0 259.0 C83.4 261.9 85.4 265.9 89.0 269.0 C92.6 272.1 96.6 274.8 101.0 277.0 C105.4 279.2 109.2 280.6 115.0 282.0 C120.8 283.4 128.2 284.3 135.0 285.0 C141.8 285.7 149.6 286.9 155.0 286.0 C160.4 285.1 162.9 282.9 167.0 280.0 C171.1 277.1 174.6 274.9 179.0 269.0 C183.4 263.1 187.2 255.5 193.0 245.0 C198.8 234.5 207.6 215.0 213.0 207.0 C218.4 199.0 221.6 199.9 225.0 198.0 C228.4 196.1 229.9 196.2 233.0 196.0 C236.1 195.8 239.6 196.5 243.0 197.0 C246.4 197.5 249.3 197.3 253.0 199.0 C256.7 200.7 260.9 203.9 265.0 207.0 C269.1 210.1 272.9 213.4 277.0 217.0 C281.1 220.6 284.9 224.6 289.0 228.0 C293.1 231.4 296.9 234.8 301.0 237.0 C305.1 239.2 307.6 240.3 313.0 241.0 C318.4 241.7 325.9 241.0 333.0 241.0 C340.1 241.0 351.3 241.0 355.0 241.0" stroke="#12e8a0" stroke-width="1.700" fill="none"/>
  </svg>
</div>
<div class="card" style="left:144px;top:450px;width:474px;height:60px">
  <div class="t" style="--sx:0.839;left:10px;top:15px;font-size:10px;font-weight:bold;color:#fff;letter-spacing:-.15px">Country Orders Statistics</div>
  <div class="abs" style="left:0;top:29.500px;width:474px;height:1px;background:#363078"></div>
  <div class="abs" style="left:0;top:30.500px;width:283px;height:30px;background:#322c70"></div>
  <svg class="abs" style="left:0;top:30.500px" width="283" height="20" viewBox="0 0 283 20">
    <g fill="#5445b0">
      <path d="M64 16l-1-5 2-5 3-4 5-1.500 5 .5 3 3 2-2.500 3-1 2 2.500.5 3 2.500.5 1.500-4 3-2.500 3.500 1-.5 4 2 2.500 2.500-3 .5-4 4-2 4.500 1 2 3.500-1 3 3 2 2.500-3.500 4-1 3 .5 5-1.500 6 .5 5 2.500 4 3.500 5 3 4 3.500 3 4v2h-92l-2-4z"/>
      <path d="M172 0h57l1.500 3-2 3 2 4-2.500 4 1.500 3-2 3h-52l-2-5-3-4 2-4-2-3z"/>
    </g>
    <g fill="#322c70">
      <path d="M84 8l1.500-3 2 1-.5 4-2 3z"/><path d="M94 4l2-2 1.500 1.500-1 5-2 2z"/><path d="M104 3l2-1 1 2-1.500 6-2 1z"/><path d="M113 9l2-5 2 .5-.5 5-2 3z"/><path d="M122 6l3-3 2 2-2 5-2.500 1z"/><path d="M70 10l3-1 1 3-3 2z"/>
      <path d="M178 6l1.500 3-1 4 2 4-2 3h-3l-1-6z" opacity=".7"/>
    </g>
    <path d="M3 20.500l6-3 3.500-2.200 2.500-1.600 3 3 3 .5 2 .8 3.500 2.500" stroke="#10f0b0" stroke-width="1.700" fill="#1a9a8e" fill-opacity=".55" stroke-linejoin="round"/>
  </svg>
  <div class="t" style="left:300px;top:45px;font-size:7.600px;color:#a9a5e6">Selected Country/Region</div>
  <div class="abs" style="left:471px;top:31px;width:2.500px;height:30px;background:#6a5be0"></div>
</div>
<div class="card" style="left:635px;top:450px;width:147.500px;height:60px">
  <div class="t" style="--sx:0.894;left:10px;top:15.300px;font-size:9.500px;font-weight:bold;color:#fff;letter-spacing:-.15px">Today's Profit</div>
  <div class="t" style="left:9.500px;top:39.300px;font-size:22.600px;color:#f1f0ff">572,900</div>
</div>
<!-- settings tab -->
<div class="abs" style="z-index:3;left:778px;top:238.500px;width:24px;height:23.500px;border-radius:3px 0 0 3px;background:linear-gradient(90deg,#14dfae,#10e08c);box-shadow:0 0 5px rgba(16,224,150,.55)"></div>
<svg class="abs" style="z-index:3;left:782px;top:242px" width="17" height="17" viewBox="0 0 17 17"><g stroke="#d9fff0" fill="none" stroke-width=".85" stroke-linejoin="round"><path d="M8.50 0.90 L10.42 3.24 L13.39 2.68 L13.35 5.70 L15.98 7.18 L14.01 9.47 L15.08 12.30 L12.10 12.79 L11.10 15.64 L8.50 14.10 L5.90 15.64 L4.90 12.79 L1.92 12.30 L2.99 9.47 L1.02 7.18 L3.65 5.70 L3.61 2.68 L6.58 3.24Z"/><circle cx="8.500" cy="8.500" r="3.500"/><circle cx="8.500" cy="8.500" r="1.500"/></g></svg>
<div class="abs" style="left:0;top:0;width:1px;height:500px;background:rgba(190,188,220,.55);z-index:9"></div>
<div class="abs" style="left:792px;top:43px;width:1px;height:457px;background:#2b2564"></div>
<div class="abs" style="left:798.500px;top:43px;width:1.500px;height:457px;background:#3e3890"></div>
</body>
</html>
